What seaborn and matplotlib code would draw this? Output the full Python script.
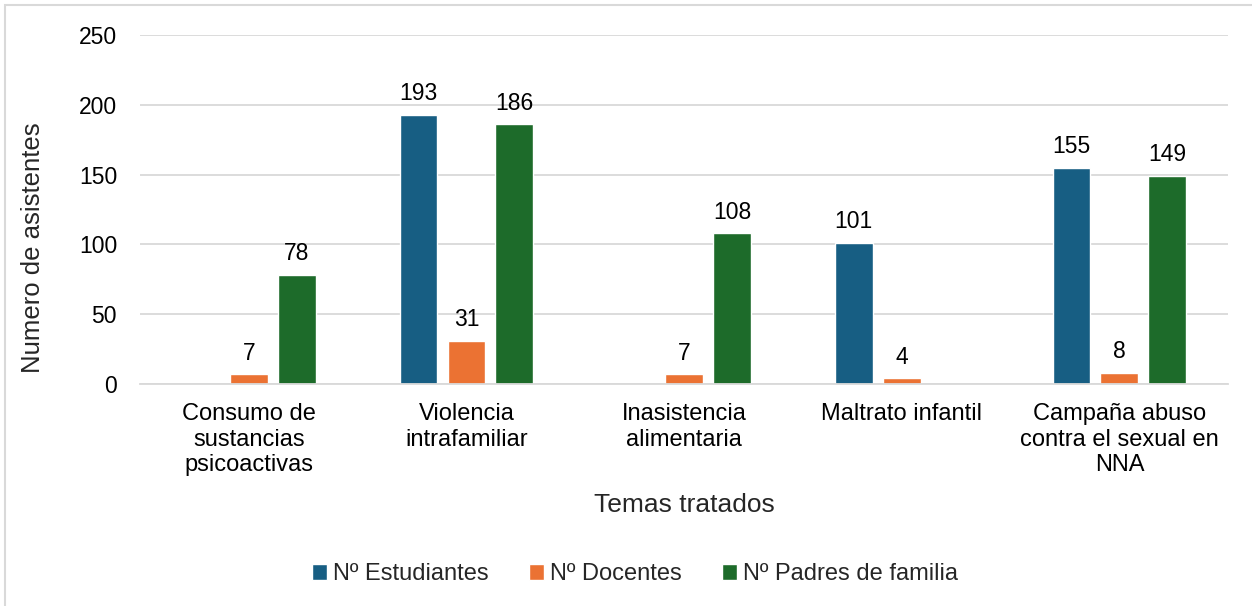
import numpy as np
import pandas as pd
import matplotlib
matplotlib.use("Agg")
import matplotlib.pyplot as plt
from matplotlib.patches import Rectangle
import seaborn as sns

# data
temas = ["Consumo de\nsustancias\npsicoactivas", "Violencia\nintrafamiliar",
         "Inasistencia\nalimentaria", "Maltrato infantil",
         "Campaña abuso\ncontra el sexual en\nNNA"]
estudiantes = [np.nan, 193, np.nan, 101, 155]
docentes = [7, 31, 7, 4, 8]
padres = [78, 186, 108, np.nan, 149]
series = ["Nº Estudiantes", "Nº Docentes", "Nº Padres de familia"]
colores = ["#175E83", "#EB7233", "#1D6B2A"]

df = pd.DataFrame({"Tema": temas * 3,
                   "Serie": np.repeat(series, len(temas)),
                   "Valor": estudiantes + docentes + padres})

sns.set_style("white")
plt.rcParams["font.family"] = ["Liberation Sans", "DejaVu Sans"]

fig = plt.figure(figsize=(12.52, 6.06), dpi=100)
ax = fig.add_axes([0.1118, 0.3663, 0.8692, 0.5759])

sns.barplot(data=df, x="Tema", y="Valor", hue="Serie", palette=colores,
            width=0.66, gap=0.21, ax=ax, saturation=1, legend=True)

for cont in ax.containers:
    ax.bar_label(cont, fmt="%g", padding=7, fontsize=16.5, color="#000000")

ax.set_ylim(0, 250)
ax.set_yticks(range(0, 251, 50))
ax.grid(axis="y", color="#d9d9d9", linewidth=1.3)
ax.set_axisbelow(True)
for s in ["top", "right", "left"]:
    ax.spines[s].set_visible(False)
ax.spines["bottom"].set_color("#d9d9d9")
ax.spines["bottom"].set_linewidth(1.3)
ax.tick_params(axis="both", length=0, colors="#000000")
ax.tick_params(axis="y", pad=16.5, labelsize=16.5)
ax.tick_params(axis="x", pad=14, labelsize=17)
ax.set_xlabel("Temas tratados", fontsize=19, labelpad=12)
ax.set_ylabel("Numero de asistentes", fontsize=18.5)
ax.yaxis.set_label_coords(-0.0873, 0.39)

ax.legend_.remove()
handles, labels = ax.get_legend_handles_labels()
fig.legend(handles, labels, loc="center", bbox_to_anchor=(0.507, 1 - 574 / 606),
           ncol=3, frameon=False, fontsize=17, handlelength=0.65,
           handleheight=0.65, handletextpad=0.25, columnspacing=1.7)

# light border of the chart area
fig.patches.append(Rectangle((5 / 1252, -0.1), 1.2, 1.1 - 5 / 606,
                             transform=fig.transFigure, fill=False,
                             edgecolor="#d9d9d9", linewidth=1.5))

fig.savefig("out.png", dpi=100)
